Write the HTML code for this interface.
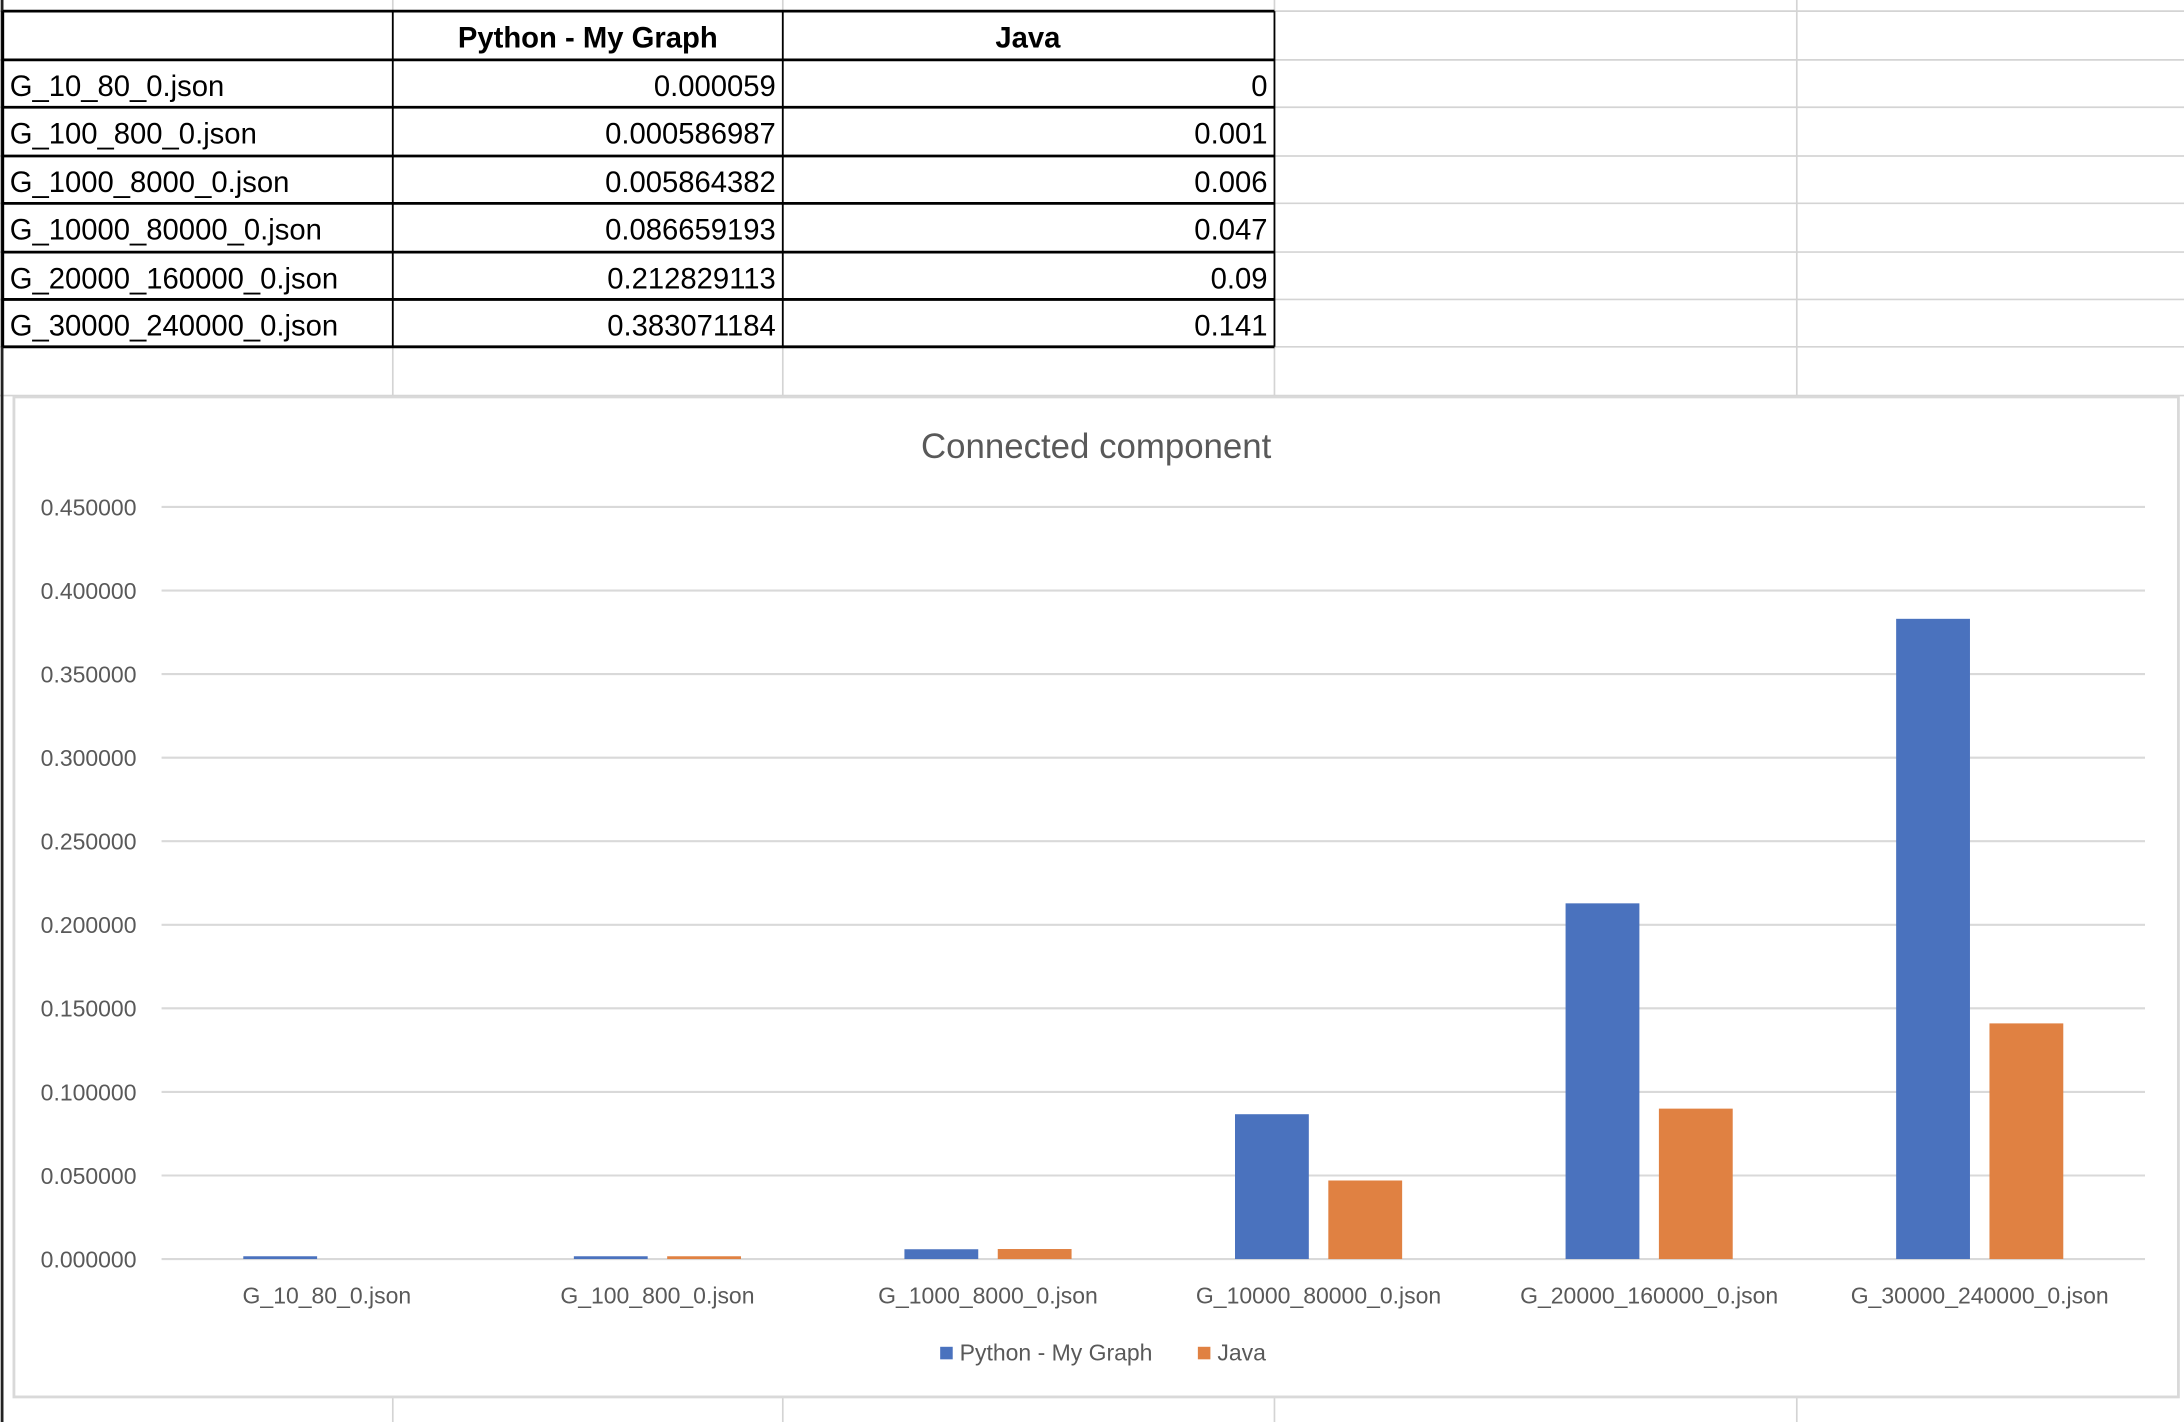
<!DOCTYPE html>
<html><head><meta charset="utf-8"><style>
html,body{margin:0;padding:0;background:#fff;width:2184px;height:1422px;overflow:hidden}
svg{display:block}
text{font-family:"Liberation Sans",sans-serif}
</style></head><body>
<svg id="root" width="2184" height="1422" viewBox="0 0 1568 1021" preserveAspectRatio="none" xmlns="http://www.w3.org/2000/svg">
<g id="grid"></g>
<g id="table"></g>
<g id="chart">
<rect x="10" y="285" width="1554" height="718" fill="#fff" stroke="#d9d9d9" stroke-width="2"/>
<text x="787" y="329" text-anchor="middle" font-size="25" fill="#595959">Connected component</text>
<g id="yaxis"></g>
<g id="bars"></g>
<g id="xaxis"></g>
<g>
<rect x="675" y="967" width="9" height="9" fill="#4a72be"/>
<text x="689" y="977" font-size="16.5" fill="#595959">Python - My Graph</text>
<rect x="860" y="967" width="9" height="9" fill="#e08142"/>
<text x="874" y="977" font-size="16.5" fill="#595959">Java</text>
</g>
</g>
</svg>
<script>
const categories=["G_10_80_0.json","G_100_800_0.json","G_1000_8000_0.json","G_10000_80000_0.json","G_20000_160000_0.json","G_30000_240000_0.json"];
const pythonValues=[0.000059,0.000586987,0.005864382,0.086659193,0.212829113,0.383071184];
const javaValues=[0,0.001,0.006,0.047,0.09,0.141];
const pythonLabels=["0.000059","0.000586987","0.005864382","0.086659193","0.212829113","0.383071184"];
const javaLabels=["0","0.001","0.006","0.047","0.09","0.141"];
const yTicks=[0,0.05,0.1,0.15,0.2,0.25,0.3,0.35,0.4,0.45];
const NS="http://www.w3.org/2000/svg";
function mk(tag,attrs,parent,txt){const e=document.createElementNS(NS,tag);for(const k in attrs)e.setAttribute(k,attrs[k]);if(txt!==undefined)e.textContent=txt;parent.appendChild(e);return e;}
const grid=document.getElementById('grid');
[282,562,915,1290].forEach(x=>{const l=mk('line',{x1:x,y1:0,x2:x,y2:1021,stroke:'#d4d4d4','stroke-width':1.2},grid);

});
[8,43,77,112,146,181,215,249,284].forEach(y=>{const l=mk('line',{x1:0,y1:y,x2:1568,y2:y,stroke:'#d4d4d4','stroke-width':1.2},grid);

});
mk('line',{x1:1.5,y1:0,x2:1.5,y2:1021,stroke:'#222','stroke-width':2},grid);
const tb=document.getElementById('table');
const rowsY=[8,43,77,112,146,181,215,249];
const colX=[2,282,562,915];
rowsY.forEach(y=>mk('line',{x1:2,y1:y,x2:915,y2:y,stroke:'#000','stroke-width':2},tb));
colX.forEach(x=>mk('line',{x1:x,y1:8,x2:x,y2:249,stroke:'#000','stroke-width':x===2?2:1.3},tb));
let h=mk('text',{x:422,y:34,'text-anchor':'middle','font-size':21,'font-weight':'bold',fill:'#000'},tb,'Python - My Graph');


h=mk('text',{x:738,y:34,'text-anchor':'middle','font-size':21,'font-weight':'bold',fill:'#000'},tb,'Java');


categories.forEach((c,i)=>{
 const y=rowsY[i+1]+26;
 let t=mk('text',{x:7,y:y,'font-size':21,fill:'#000'},tb,c);
 
 
 t=mk('text',{x:557,y:y,'text-anchor':'end','font-size':21,fill:'#000'},tb,pythonLabels[i]);
 
 
 t=mk('text',{x:910,y:y,'text-anchor':'end','font-size':21,fill:'#000'},tb,javaLabels[i]);
 
 
});
const plotL=116,plotR=1540,y0=904,yTop=364,yMax=0.45;
const yScale=v=>y0-(v/yMax)*(y0-yTop);
const band=(plotR-plotL)/categories.length;
const xCenter=i=>plotL+band*(i+0.5);
const ya=document.getElementById('yaxis');
yTicks.forEach(v=>{
 const y=yScale(v);
 const l=mk('line',{x1:plotL,y1:y,x2:plotR,y2:y,stroke:'#d9d9d9','stroke-width':1.5},ya);
 
 
 const t=mk('text',{x:98,y:y+6,'text-anchor':'end','font-size':16.5,fill:'#595959'},ya,v.toFixed(6));
 
 
});
const bars=document.getElementById('bars');
const bw=53;
function barH(v){const hh=y0-yScale(v);return v>0?Math.max(hh,2):0;}
categories.forEach((c,i)=>{
 const cx=xCenter(i);
 const ph=barH(pythonValues[i]);
 let r=mk('rect',{x:cx-60,y:y0-ph,width:bw,height:ph,fill:'#4a72be'},bars);
 
 
 const jh=barH(javaValues[i]);
 r=mk('rect',{x:cx+7,y:y0-jh,width:bw,height:jh,fill:'#e08142'},bars);
 
 
});
const xa=document.getElementById('xaxis');
categories.forEach((c,i)=>{
 const t=mk('text',{x:xCenter(i),y:936,'text-anchor':'middle','font-size':16.5,fill:'#595959'},xa,c);
 
 
});
</script>
</body></html>
